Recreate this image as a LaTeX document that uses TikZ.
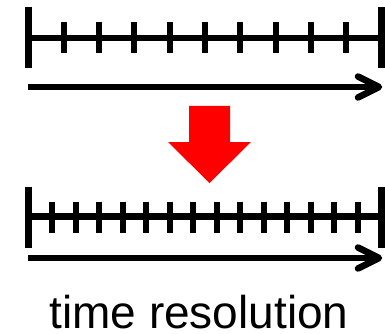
\documentclass[tikz,border=0pt]{standalone}
\usepackage{fontspec}
\setmainfont{Liberation Sans}
\usetikzlibrary{calc}
\begin{document}
\begin{tikzpicture}[x=1pt,y=-1pt,
  rulerline/.style={line width=6.8pt},
  endbar/.style={line width=6.5pt},
  tickmark/.style={line width=6pt},
  timearrow/.style={line width=6.5pt},
  barb/.style={line width=6.5pt, line cap=round, line join=round},
  bigarrow/.style={fill=red, draw=none},
  caption/.style={inner sep=0pt, anchor=base, text depth=0pt,
    font=\fontsize{46}{54}\selectfont}]
\useasboundingbox (0,0) rectangle (385,334);

% coarse ruler: 10 intervals
\coordinate (tl) at (28.5,38);
\coordinate (tr) at (381.5,38);
\draw[rulerline] (tl) -- (tr);
\draw[endbar] ($(tl)+(0,-31)$) -- ($(tl)+(0,30)$);
\draw[endbar] ($(tr)+(0,-31)$) -- ($(tr)+(0,30)$);
\foreach \k in {1,...,9}
  \draw[tickmark] ($(tl)!\k/10!(tr)+(0,-16)$) -- ($(tl)!\k/10!(tr)+(0,15)$);

% time axis under the coarse ruler
\coordinate (ta0) at (28,87);
\coordinate (ta1) at (379,87);
\draw[timearrow] (ta0) -- ($(ta1)+(-3,0)$);
\draw[barb] ($(ta1)+(-21,-10.5)$) -- (ta1) -- ($(ta1)+(-21,10.5)$);

% refinement arrow
\coordinate (ra) at (209.5,183);
\fill[bigarrow] (189,106) -- (230,106) -- (230,142) -- (251,142) -- (ra)
  -- (168,142) -- (189,142) -- cycle;

% fine ruler: 15 intervals
\coordinate (bl) at (28.5,216.5);
\coordinate (br) at (381.5,216.5);
\draw[rulerline] (bl) -- (br);
\draw[endbar] ($(bl)+(0,-30)$) -- ($(bl)+(0,31.5)$);
\draw[endbar] ($(br)+(0,-30)$) -- ($(br)+(0,31.5)$);
\foreach \k in {1,...,14}
  \draw[tickmark] ($(bl)!\k/15!(br)+(0,-15)$) -- ($(bl)!\k/15!(br)+(0,16)$);

% time axis under the fine ruler
\coordinate (ba0) at (28,258);
\coordinate (ba1) at (379,258);
\draw[timearrow] (ba0) -- ($(ba1)+(-3,0)$);
\draw[barb] ($(ba1)+(-21,-10.5)$) -- (ba1) -- ($(ba1)+(-21,10.5)$);

\node[caption] (cap) at (199,328) {time resolution};
\end{tikzpicture}
\end{document}
